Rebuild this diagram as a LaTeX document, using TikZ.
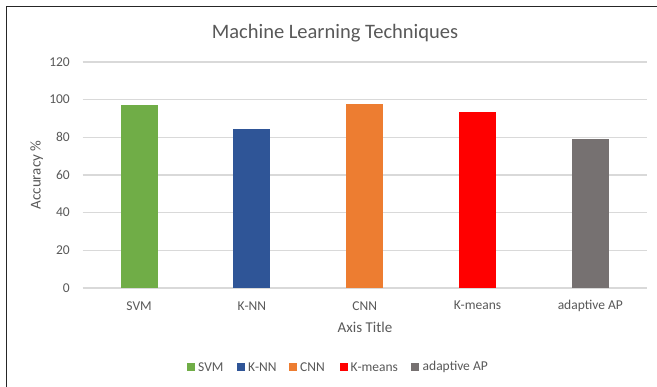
\documentclass[tikz,border=0pt]{standalone}
\usepackage{fontspec}
\setmainfont{Carlito}
\definecolor{txtgray}{HTML}{595959}
\definecolor{gridgray}{HTML}{D9D9D9}
\definecolor{cSVM}{HTML}{70AD47}
\definecolor{cKNN}{HTML}{2F5597}
\definecolor{cCNN}{HTML}{ED7D31}
\definecolor{cKM}{HTML}{FF0000}
\definecolor{cAP}{HTML}{767171}
\begin{document}
\begin{tikzpicture}[x=1pt,y=-1pt,
  lbl/.style={text=txtgray,font=\fontsize{13.5}{14}\selectfont,inner sep=0pt},
  ttl/.style={text=txtgray,font=\fontsize{15}{16}\selectfont,inner sep=0pt},
  grid line/.style={draw=gridgray,line width=1.2pt},
  legsq/.style={minimum size=8pt,inner sep=0pt,anchor=center}]
\useasboundingbox (0,0) rectangle (657,387);
\clip (0,0) rectangle (657,387);
\fill[white] (0,0) rectangle (657,387);
% chart frame (left and top edges fall inside the page)
\draw[line width=1.5pt,draw=black!85] (6.5,6.5) rectangle (720,420);

% title
\node[text=txtgray,font=\fontsize{20.5}{22}\selectfont,inner sep=0pt] (title) at (335,33) {Machine Learning Techniques};

% value axis: 0 at y=288, 120 at y=62 (1.88333 per unit)
\foreach \v in {0,20,...,120}{
  \pgfmathsetmacro{\yy}{288-\v*1.883333}
  \draw[grid line] (82.7,\yy) -- (646.7,\yy);
  \node[lbl,anchor=east] (tick\v) at (70,\yy) {\v};
}

% bars
\foreach \i/\val/\col/\name in {0/97/cSVM/SVM,1/84.3/cKNN/K-NN,2/97.6/cCNN/CNN,3/93.4/cKM/K-means,4/79/cAP/adaptive AP}{
  \pgfmathsetmacro{\cx}{139.1+\i*112.8}
  \pgfmathsetmacro{\ytop}{288-\val*1.883333}
  \fill[\col] (\cx-18.5,\ytop) rectangle (\cx+18.5,288);
  \node[lbl] (cat\i) at (\cx,305.7) {\name};
}

% axis titles
\node[ttl] (xtitle) at (365,327.7) {Axis Title};
\node[ttl,rotate=90] (ytitle) at (36.7,175) {Accuracy \%};

% legend
\foreach \sx/\tx/\col/\name [count=\k] in {191/198/cSVM/SVM,240.5/248/cKNN/K-NN,293/300/cCNN/CNN,343.5/350.5/cKM/K-means,415/422.5/cAP/adaptive AP}{
  \node[legsq,fill=\col] (leg\k) at (\sx,367.3) {};
  \node[lbl,anchor=west] (legt\k) at (\tx,367.3) {\name};
}
\end{tikzpicture}
\end{document}
